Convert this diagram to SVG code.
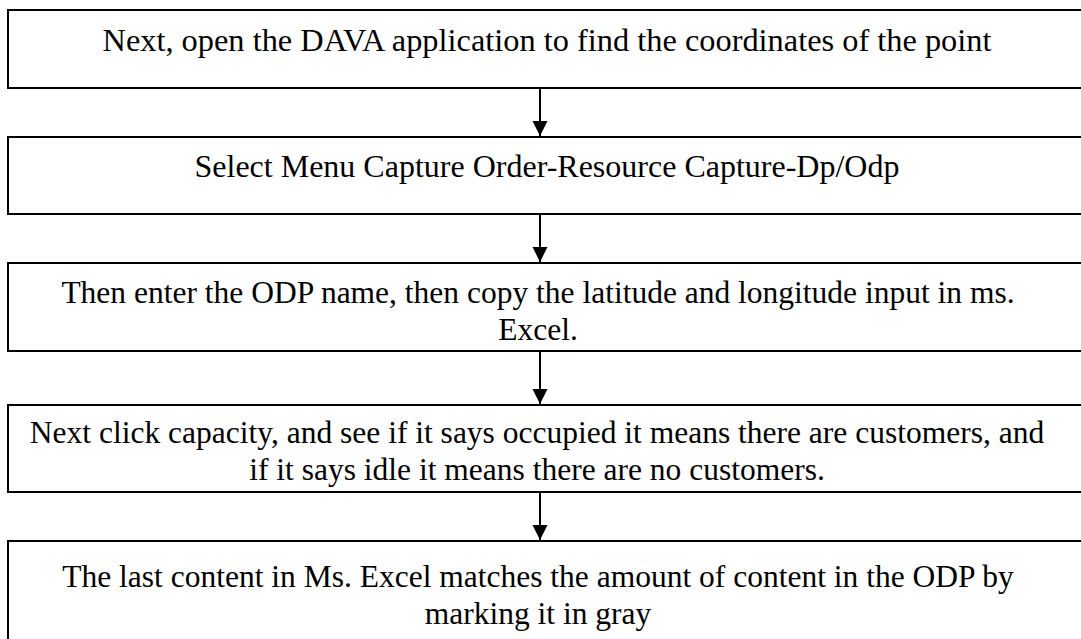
<svg xmlns="http://www.w3.org/2000/svg" width="1081" height="639" viewBox="0 0 1081 639">
<style>
.box{fill:#fff;stroke:#000;stroke-width:2}
.lbl{font-family:'Liberation Serif','Times New Roman',serif;font-size:31.5px;fill:#000;text-anchor:middle}
.conn{stroke:#000;stroke-width:2;fill:none}
</style>
<defs>
<marker id="ah" markerUnits="userSpaceOnUse" markerWidth="16" markerHeight="16" viewBox="0 0 16 16" refX="15" refY="8" orient="auto">
<path d="M0,0.5 L15,8 L0,15.5 Z" fill="#000"/>
</marker>
</defs>
<rect width="1081" height="639" fill="#fff"/>
<g id="n1">
<rect class="box" x="8" y="10" width="1100" height="78"/>
<text class="lbl" x="547" y="51" textLength="889" lengthAdjust="spacingAndGlyphs">Next, open the DAVA application to find the coordinates of the point</text>
</g>
<g id="n2">
<rect class="box" x="8" y="137" width="1100" height="77"/>
<text class="lbl" x="547" y="177" textLength="705" lengthAdjust="spacingAndGlyphs">Select Menu Capture Order-Resource Capture-Dp/Odp</text>
</g>
<g id="n3">
<rect class="box" x="8" y="263" width="1100" height="88"/>
<text class="lbl" x="538" y="303">Then enter the ODP name, then copy the latitude and longitude input in ms.</text>
<text class="lbl" x="538" y="340">Excel.</text>
</g>
<g id="n4">
<rect class="box" x="8" y="405" width="1100" height="87"/>
<text class="lbl" x="537" y="443">Next click capacity, and see if it says occupied it means there are customers, and</text>
<text class="lbl" x="537" y="480">if it says idle it means there are no customers.</text>
</g>
<g id="n5">
<rect class="box" x="8" y="541" width="1100" height="120"/>
<text class="lbl" x="538" y="587">The last content in Ms. Excel matches the amount of content in the ODP by</text>
<text class="lbl" x="538" y="624">marking it in gray</text>
</g>
<g id="connectors">
<line class="conn" x1="540" y1="89" x2="540" y2="136" marker-end="url(#ah)"/>
<line class="conn" x1="540" y1="215" x2="540" y2="262" marker-end="url(#ah)"/>
<line class="conn" x1="540" y1="352" x2="540" y2="404" marker-end="url(#ah)"/>
<line class="conn" x1="540" y1="493" x2="540" y2="540" marker-end="url(#ah)"/>
</g>
</svg>
